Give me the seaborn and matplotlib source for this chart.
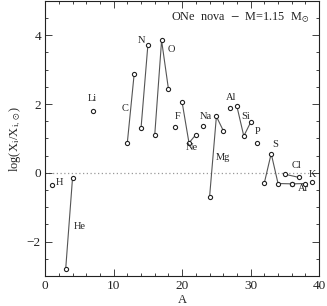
import pandas as pd
import numpy as np
import seaborn as sns
import matplotlib.pyplot as plt
from matplotlib.ticker import MultipleLocator

# isotope data: element, mass number A, log(X_i/X_i,sun)
element = ["H", "He", "He", "Li", "C", "C", "N", "N", "O", "O", "O", "F",
           "Ne", "Ne", "Ne", "Na", "Mg", "Mg", "Mg", "Al", "Si", "Si", "Si", "P",
           "S", "S", "S", "S", "Cl", "Cl", "Ar", "Ar", "K"]
mass_A = [1, 3, 4, 7, 12, 13, 14, 15, 16, 17, 18, 19,
          20, 21, 22, 23, 24, 25, 26, 27, 28, 29, 30, 31,
          32, 33, 34, 36, 35, 37, 36, 38, 39]
log_x = [-0.36, -2.80, -0.15, 1.81, 0.88, 2.88, 1.30, 3.72, 1.10, 3.85, 2.44, 1.34,
         2.05, 0.87, 1.11, 1.35, -0.71, 1.64, 1.23, 1.89, 1.93, 1.07, 1.47, 0.88,
         -0.29, 0.56, -0.31, -0.32, -0.04, -0.13, -0.32, -0.31, -0.28]

# label positions (element name placed next to its isotopes)
label_names = ["H", "He", "Li", "C", "N", "O", "F", "Ne", "Na", "Mg", "Al", "Si",
               "P", "S", "Cl", "Ar", "K"]
label_x = [2.1, 5.1, 6.9, 11.6, 14.0, 18.4, 19.35, 21.4, 23.5, 25.9, 27.1, 29.3,
           31.0, 33.6, 36.7, 37.7, 39.0]
label_y = [-0.28, -1.56, 2.17, 1.86, 3.85, 3.6, 1.64, 0.73, 1.65, 0.44, 2.2, 1.65,
           1.2, 0.83, 0.21, -0.45, -0.04]

df = pd.DataFrame({"element": element, "A": mass_A, "logX": log_x})

sns.set_style("ticks")
plt.rcParams["font.family"] = ["Liberation Serif", "DejaVu Serif"]
plt.rcParams["mathtext.fontset"] = "stix"

fig = plt.figure(figsize=(3.27, 3.06), dpi=100)
ax = fig.add_axes([0.138, 0.098, 0.838, 0.899])

# zero line
ax.axhline(0, color="#999999", lw=0.9, ls=(0, (1, 2)), zorder=0)

# isotopes of each element joined by a line
multi = df.groupby("element").filter(lambda g: len(g) > 1)
sns.lineplot(data=multi, x="A", y="logX", units="element", estimator=None,
             sort=False, color="#555555", lw=0.8, ax=ax, legend=False)

sns.scatterplot(data=df, x="A", y="logX", marker="o", s=9, facecolor="white",
                edgecolor="#222222", linewidth=0.8, ax=ax, zorder=3, legend=False)

for name, lx, ly in zip(label_names, label_x, label_y):
    ax.text(lx, ly, name, fontsize=7.5, ha="center", va="center", color="#222222")

ax.text(0.965, 0.965, r"ONe  nova  $-$  M=1.15  M$_{\odot}$", transform=ax.transAxes,
        ha="right", va="top", fontsize=8.8, color="#222222")

ax.set_xlim(0, 40)
ax.set_ylim(-3, 5)
ax.xaxis.set_major_locator(MultipleLocator(10))
ax.xaxis.set_minor_locator(MultipleLocator(2))
ax.yaxis.set_major_locator(MultipleLocator(2))
ax.yaxis.set_minor_locator(MultipleLocator(0.5))
ax.tick_params(which="both", direction="in", top=True, right=True,
               labelsize=9.5, colors="#222222", width=0.6)
ax.tick_params(which="major", length=5, pad=3)
ax.tick_params(which="minor", length=2.5)
for s in ax.spines.values():
    s.set_linewidth(0.8)
    s.set_color("#222222")

ax.set_xlabel("A", fontsize=9, labelpad=1)
ax.set_ylabel(r"log(X$_{\rm i}$/X$_{\rm i,\odot}$)", fontsize=9, labelpad=3)

fig.savefig("out.png", dpi=100)
